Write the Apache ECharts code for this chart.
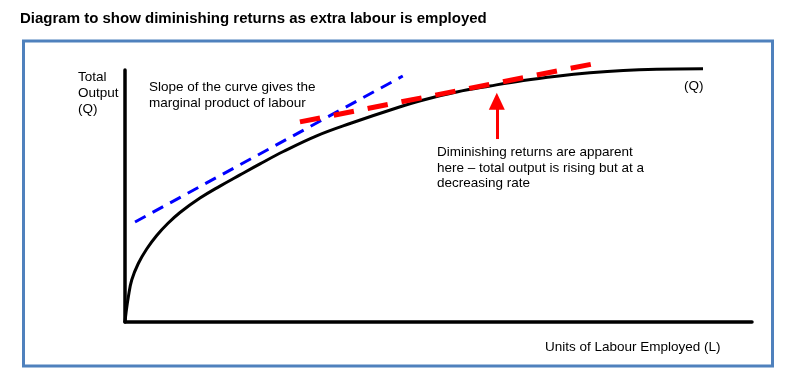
<!DOCTYPE html>
<html>
<head>
<meta charset="utf-8">
<script src="https://cdn.jsdelivr.net/npm/echarts@6/dist/echarts.min.js"></script>
<style>
  html, body { margin: 0; padding: 0; background: #fff; }
  #chart { width: 793px; height: 377px; }
</style>
</head>
<body>
<div id="chart"></div>
<script>
// total product curve (labour units, output)
const labour = [0, 0.16, 0.53, 1.07, 2.12, 3.46, 5.06, 6.86, 8.77, 11.96, 15.15, 18.34, 21.53, 25.25,
  30.57, 35.89, 43.54, 47.58, 52.9, 58.21, 63.53, 68.85, 74.16, 79.47, 84.8, 92.19];
const output = [0, 3.57, 9.92, 16.67, 23.21, 28.97, 34.33, 39.17, 43.45, 49.17, 53.93, 58.37, 62.74, 67.66,
  73.89, 78.77, 85.12, 88.1, 91.27, 93.65, 95.83, 97.54, 98.89, 99.84, 100.32, 100.52];

// tangent lines: [labour, output] end points
const tangentEarly = [[1.6, 39.7], [44.3, 97.6]];
const tangentLate = [[27.9, 79.4], [74.6, 102.4]];

// arrow pointing at the flattening section (end = centre of the head)
const arrowFrom = [59.3, 72.6];
const arrowTo = [59.3, 87.6];

const titleText = 'Diagram to show diminishing returns as extra labour is employed';
const fontFam = 'Liberation Sans, Arial, sans-serif';

let chart = echarts.init(document.getElementById('chart'));

let option = {
  animation: false,
  grid: { left: 125, right: 41, top: 70, bottom: 55 },
  xAxis: {
    type: 'value', min: 0, max: 100,
    axisLine: { lineStyle: { color: '#000', width: 3.5 } },
    axisTick: { show: false }, axisLabel: { show: false }, splitLine: { show: false }
  },
  yAxis: {
    type: 'value', min: 0, max: 100,
    axisLine: { show: true, lineStyle: { color: '#000', width: 3.5 } },
    axisTick: { show: false }, axisLabel: { show: false }, splitLine: { show: false }
  },
  graphic: [
    {
      type: 'text', left: 20, top: 11,
      style: { text: titleText, font: 'bold 15px ' + fontFam, fill: '#000' }
    },
    {
      type: 'rect', shape: { x: 23.5, y: 41, width: 749, height: 325 },
      style: { fill: 'none', stroke: '#4f81bd', lineWidth: 3 }
    },
    {
      type: 'text', left: 78, top: 69,
      style: { text: 'Total\nOutput\n(Q)', font: '13.5px ' + fontFam, lineHeight: 16, fill: '#000' }
    },
    {
      type: 'text', left: 149, top: 79,
      style: { text: 'Slope of the curve gives the\nmarginal product of labour', font: '13.5px ' + fontFam, lineHeight: 16, fill: '#000' }
    },
    {
      type: 'text', left: 684, top: 79,
      style: { text: '(Q)', font: '13.5px ' + fontFam, fill: '#000' }
    },
    {
      type: 'text', left: 437, top: 145,
      style: { text: 'Diminishing returns are apparent\nhere \u2013 total output is rising but at a\ndecreasing rate', font: '13.5px ' + fontFam, lineHeight: 15.5, fill: '#000' }
    },
    {
      type: 'text', left: 545, top: 340,
      style: { text: 'Units of Labour Employed (L)', font: '13.5px ' + fontFam, fill: '#000' }
    }
  ],
  series: [
    {
      type: 'line', smooth: 0.4, symbol: 'none', clip: false,
      data: labour.map((l, i) => [l, output[i]]),
      lineStyle: { color: '#000', width: 3 }
    },
    {
      type: 'line', symbol: 'none', clip: false,
      data: tangentEarly,
      lineStyle: { color: '#0000ff', width: 3, type: [12, 8] }
    },
    {
      type: 'line', symbol: 'none', clip: false,
      data: tangentLate,
      lineStyle: { color: '#ff0000', width: 5, type: [20.5, 14] }
    },
    {
      type: 'line', data: [], symbol: 'none',
      markLine: {
        silent: true, animation: false,
        symbol: ['none', 'triangle'], symbolSize: [16, 17],
        label: { show: false },
        lineStyle: { color: '#ff0000', width: 3, type: 'solid' },
        data: [[{ coord: arrowFrom }, { coord: arrowTo }]]
      }
    }
  ]
};

chart.setOption(option);
</script>
</body>
</html>
